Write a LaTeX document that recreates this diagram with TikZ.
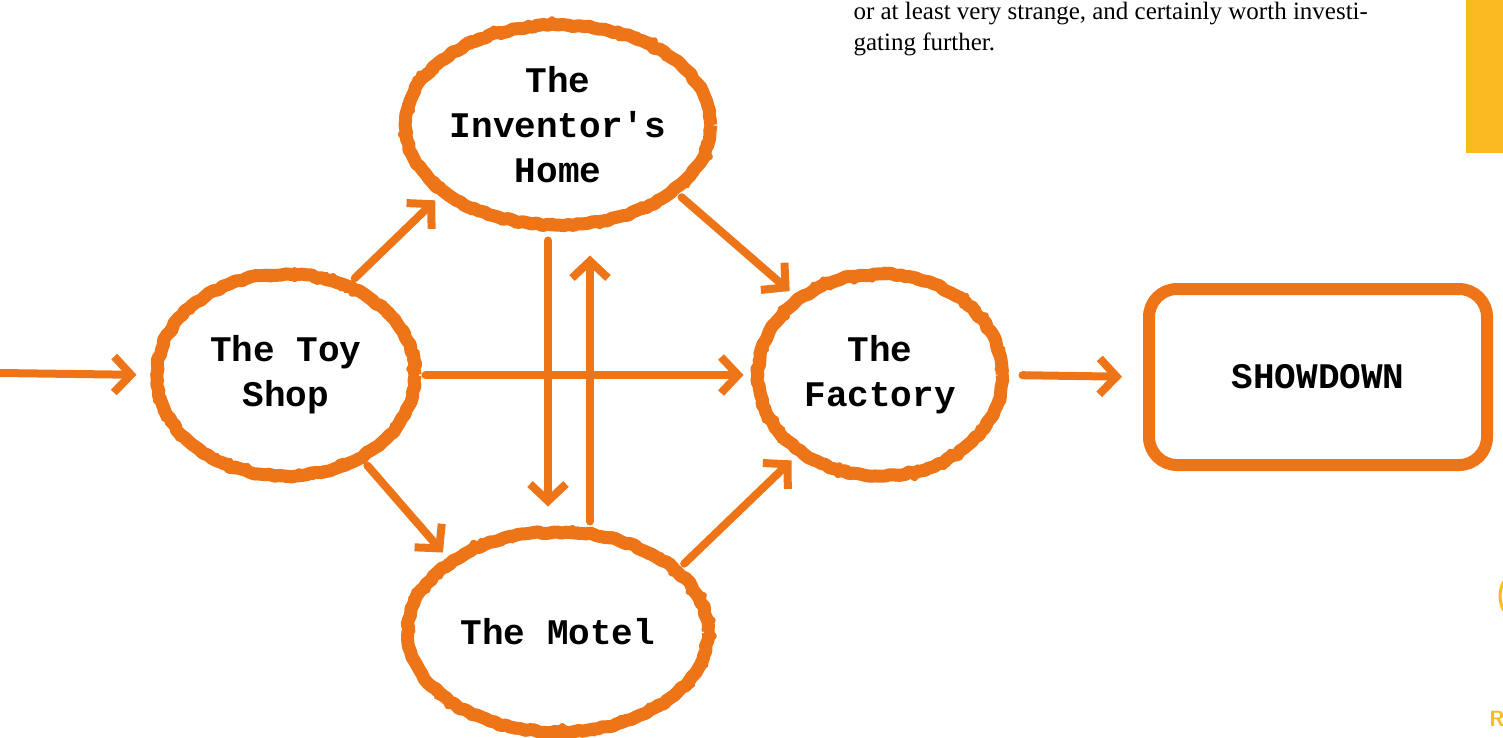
\documentclass[tikz,border=0pt]{standalone}
\usepackage{fontspec}
\setmainfont{Liberation Serif}
\newfontfamily\typefont{Liberation Mono}
\usetikzlibrary{arrows.meta, shapes.geometric, decorations.pathmorphing}
\usepackage{xcolor}
\definecolor{rust}{RGB}{238,116,24}
\definecolor{gold}{RGB}{251,186,31}
\newcommand\labelfont{\typefont\bfseries\fontsize{36}{45}\selectfont}

\begin{document}
\begin{tikzpicture}[
        x=1pt, y=-1pt,
        line join=round,
        place/.style={shape=ellipse, draw=rust, line width=13pt, inner sep=0pt, align=center, font=\labelfont,
            decorate, decoration={random steps, segment length=5pt, amplitude=1.2pt},
            preaction={draw=rust, line width=7pt, decorate, decoration={random steps, segment length=2.5pt, amplitude=4.5pt}}},
        finalbox/.style={shape=rectangle, rounded corners=28pt, draw=rust, line width=12pt, inner sep=0pt, font=\labelfont,
            minimum width=338pt, minimum height=176pt},
        flow/.style={draw=rust, line width=8pt, line cap=round, -{Straight Barb[length=17pt, width=36pt, line width=8pt]}}
        ]
        \useasboundingbox (0,0) rectangle (1503,737);

        %% Page remains
        \node[anchor=base west, font=\fontsize{25}{33}\selectfont] (para1) at (850,19) {or at least very strange, and certainly worth investi-};
        \node[anchor=base west, font=\fontsize{25}{33}\selectfont] (para2) at (850,50) {gating further.};
        \fill[gold] (1466,0) rectangle (1503,153);
        \draw[gold, line width=3pt] (1530,596) ++(150:30) arc (150:210:30);
        \node[anchor=base west, inner sep=0pt, text=gold, font=\sffamily\bfseries\fontsize{22}{22}\selectfont] (pagemark) at (1489,726) {R};

        %% Places
        \node[place, minimum width=300pt, minimum height=200pt] (home) at (558,125) {The\\Inventor's\\Home};
        \node[place, minimum width=258pt, minimum height=202pt] (toy) at (286,375) {The Toy\\Shop};
        \node[place, minimum width=244pt, minimum height=202pt] (factory) at (880,375) {The\\Factory};
        \node[place, minimum width=300pt, minimum height=200pt] (motel) at (558,632) {The Motel};
        \node[finalbox] (showdown) at (1318,377) {SHOWDOWN};

        %% Connections
        \coordinate (entry) at (0,373);
        \draw[flow, shorten >=14pt] (entry) -- (toy.west);
        \draw[flow, shorten <=4pt, shorten >=6pt] (toy.55) -- (home.211);
        \draw[flow, shorten <=4pt, shorten >=6pt] (home.-30) -- (factory.137);
        \draw[flow, shorten <=4pt, shorten >=8pt] (toy.east) -- (factory.west);
        \draw[flow, shorten <=4pt, shorten >=6pt] (toy.-48) -- (motel.146);
        \draw[flow, shorten <=4pt, shorten >=6pt] (motel.28) -- (factory.224);
        \draw[flow, shorten <=9pt, shorten >=19pt] ([xshift=-10pt]home.south) -- ([xshift=-10pt]motel.north);
        \draw[flow, shorten <=4pt, shorten >=24pt] ([xshift=32pt]motel.north) -- ([xshift=32pt]home.south);
        \draw[flow, shorten <=14pt, shorten >=21pt] (factory.east) -- (showdown.west);
\end{tikzpicture}
\end{document}
